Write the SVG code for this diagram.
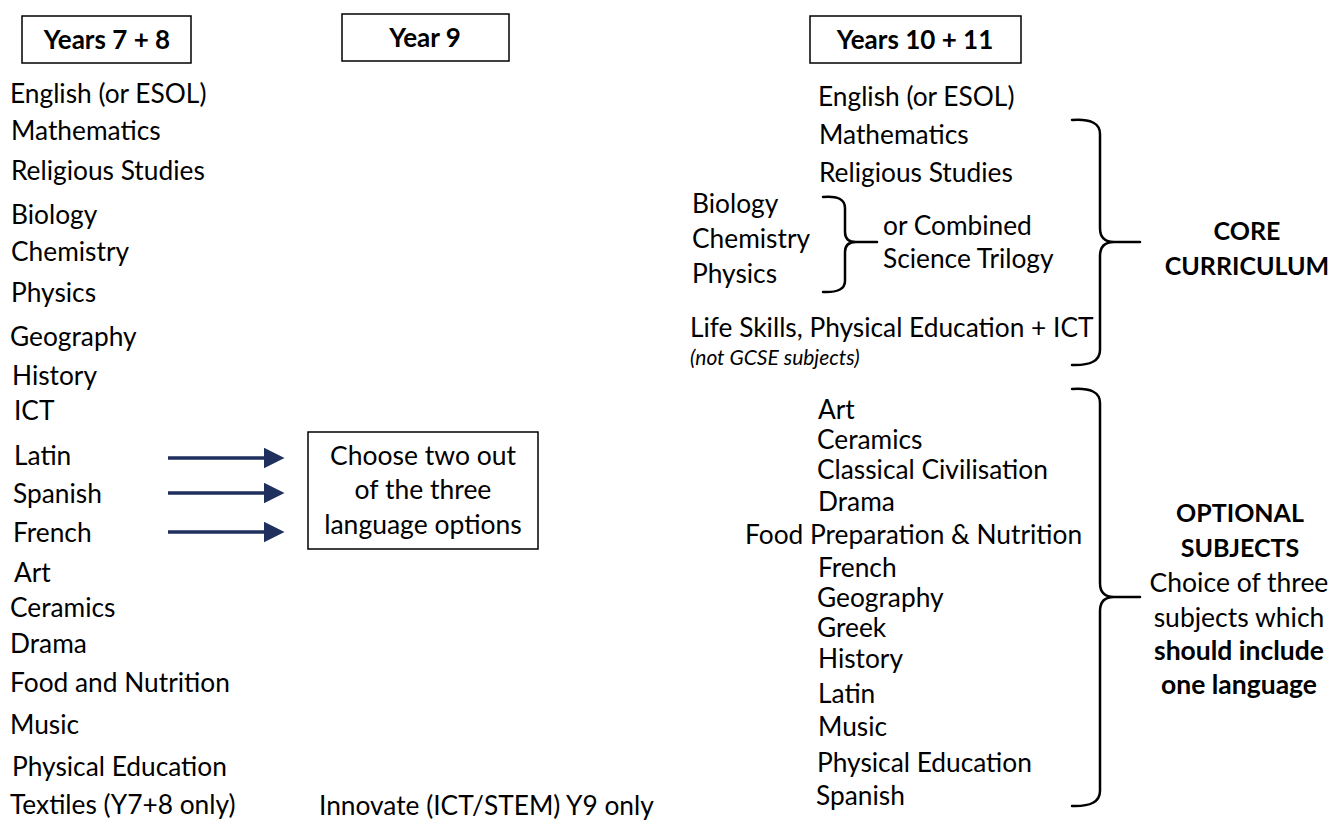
<svg xmlns="http://www.w3.org/2000/svg" width="1332" height="820" viewBox="0 0 1332 820">
<defs>
<style>
text{font-family:Lato,"Liberation Sans",sans-serif;fill:#000;}
.t{font-size:26.3px;}
.h{font-size:26px;font-weight:bold;text-anchor:middle;}
.b{font-size:25px;font-weight:bold;text-anchor:middle;}
.bl{font-size:26.5px;font-weight:bold;text-anchor:middle;}
.c{font-size:26.5px;text-anchor:middle;}
.i{font-size:21px;font-style:italic;}
.box{fill:#fff;stroke:#000;stroke-width:1.5;}
.brace{fill:none;stroke:#000;stroke-width:2.5;stroke-linecap:round;}
.arr{stroke:#1F2F5E;stroke-width:3.5;fill:none;}
</style>
<marker id="ah" markerWidth="6" markerHeight="6" refX="3" refY="3" orient="auto" markerUnits="strokeWidth" viewBox="0 0 6 6">
<path d="M0,0 L6,3 L0,6 Z" fill="#1F2F5E"/>
</marker>
</defs>
<rect width="1332" height="820" fill="#fff"/>

<g id="hdr-y78"><rect class="box" x="22" y="16" width="169" height="47"/><text class="h" x="107" y="49">Years 7 + 8</text></g>
<g id="hdr-y9"><rect class="box" x="342" y="14" width="167" height="47"/><text class="h" x="425" y="47">Year 9</text></g>
<g id="hdr-y1011"><rect class="box" x="810" y="16" width="211" height="47"/><text class="h" x="915" y="49">Years 10 + 11</text></g>

<g id="y78-list">
<text class="t" x="10" y="103">English (or ESOL)</text>
<text class="t" x="11" y="140">Mathematics</text>
<text class="t" x="11" y="180">Religious Studies</text>
<text class="t" x="11" y="224">Biology</text>
<text class="t" x="11" y="261">Chemistry</text>
<text class="t" x="11" y="302">Physics</text>
<text class="t" x="10" y="346">Geography</text>
<text class="t" x="12" y="385">History</text>
<text class="t" x="14" y="420">ICT</text>
<text class="t" x="14" y="465">Latin</text>
<text class="t" x="13" y="503">Spanish</text>
<text class="t" x="13" y="542">French</text>
<text class="t" x="14" y="582">Art</text>
<text class="t" x="10" y="617">Ceramics</text>
<text class="t" x="10" y="653">Drama</text>
<text class="t" x="10" y="692">Food and Nutrition</text>
<text class="t" x="10" y="734">Music</text>
<text class="t" x="12" y="776">Physical Education</text>
<text class="t" x="10" y="814">Textiles (Y7+8 only)</text>
</g>

<g id="lang-box"><rect class="box" x="308" y="432" width="230" height="117"/>
<text class="c" x="423" y="465">Choose two out</text>
<text class="c" x="423" y="499">of the three</text>
<text class="c" x="423" y="534">language options</text></g>

<g id="innovate"><text class="t" x="319" y="815">Innovate (ICT/STEM) Y9 only</text></g>

<g id="connectors">
<line class="arr" x1="168" y1="458" x2="274" y2="458" marker-end="url(#ah)"/>
<line class="arr" x1="168" y1="493" x2="274" y2="493" marker-end="url(#ah)"/>
<line class="arr" x1="168" y1="532" x2="274" y2="532" marker-end="url(#ah)"/>
</g>

<g id="core-list">
<text class="t" x="818" y="106">English (or ESOL)</text>
<text class="t" x="819" y="144">Mathematics</text>
<text class="t" x="819" y="182">Religious Studies</text>
<text class="t" x="692" y="213">Biology</text>
<text class="t" x="692" y="248">Chemistry</text>
<text class="t" x="692" y="283">Physics</text>
<text class="t" x="883" y="235">or Combined</text>
<text class="t" x="883" y="268">Science Trilogy</text>
<text class="t" x="690" y="337">Life Skills, Physical Education + ICT</text>
<text class="i" x="690" y="365">(not GCSE subjects)</text>
</g>

<g id="opt-list">
<text class="t" x="818" y="419">Art</text>
<text class="t" x="817" y="449">Ceramics</text>
<text class="t" x="817" y="479">Classical Civilisation</text>
<text class="t" x="818" y="511">Drama</text>
<text class="t" x="745" y="544">Food Preparation &amp; Nutrition</text>
<text class="t" x="818" y="577">French</text>
<text class="t" x="817" y="607">Geography</text>
<text class="t" x="817" y="637">Greek</text>
<text class="t" x="818" y="668">History</text>
<text class="t" x="818" y="703">Latin</text>
<text class="t" x="818" y="736">Music</text>
<text class="t" x="817" y="772">Physical Education</text>
<text class="t" x="816" y="805">Spanish</text>
</g>

<g id="braces">
<path class="brace" d="M823,197 Q845,195 845,208 L845,232 Q845,242 856,242 L877,242 M856,242 Q845,242 845,252 L845,281 Q845,293 823,292"/>
<path class="brace" d="M1072,120 Q1100,118 1100,134 L1100,228 Q1100,242 1114,242 L1140,242 M1114,242 Q1100,242 1100,256 L1100,350 Q1100,366 1072,365"/>
<path class="brace" d="M1072,389 Q1100,387 1100,403 L1100,583 Q1100,597 1114,597 L1140,597 M1114,597 Q1100,597 1100,611 L1100,791 Q1100,807 1072,806"/>
</g>

<g id="core-label">
<text class="b" x="1247" y="240">CORE</text>
<text class="b" x="1247" y="275">CURRICULUM</text>
</g>
<g id="opt-label">
<text class="b" x="1240" y="522">OPTIONAL</text>
<text class="b" x="1240" y="557">SUBJECTS</text>
<text class="c" x="1239" y="592">Choice of three</text>
<text class="c" x="1239" y="627">subjects which</text>
<text class="bl" x="1239" y="660">should include</text>
<text class="bl" x="1239" y="694">one language</text>
</g>
</svg>
